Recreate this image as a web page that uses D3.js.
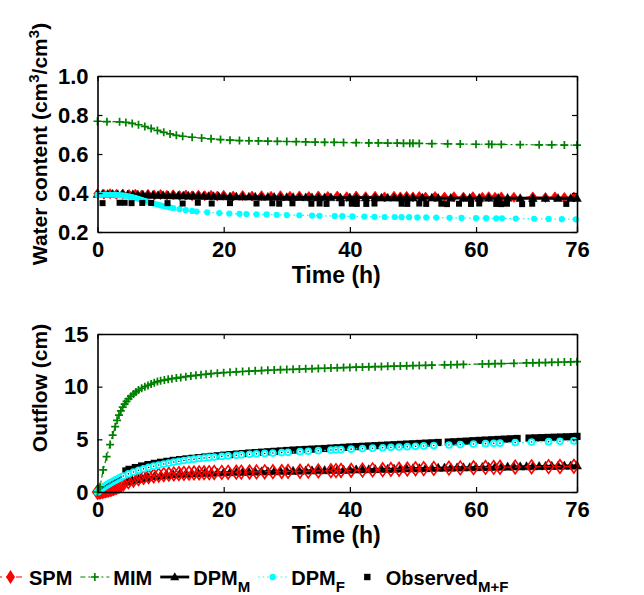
<!DOCTYPE html>
<html>
<head>
<meta charset="utf-8">
<script src="https://cdn.jsdelivr.net/npm/d3@7"></script>
<style>
  body { margin: 0; background: #fff; }
  text { font-family: "Liberation Sans", Arial, sans-serif; font-weight: bold; fill: #000; }
</style>
</head>
<body>
<div id="chart"></div>
<script>
// ---- data: [time (h), value] ----
const xTicks = [0, 20, 40, 60, 76];
const waterTicks = [0.2, 0.4, 0.6, 0.8, 1.0];
const outflowTicks = [0, 5, 10, 15];

// water content (cm3/cm3)
const waterSPM = [[0,0.396],[1,0.394],[2,0.396],[3,0.393],[4,0.395],[5,0.392],[6,0.394],[7,0.39],[8,0.393],[9,0.389],[10,0.392],[11,0.388],[12,0.391],[13,0.387],[14,0.39],[15,0.386],[16,0.389],[17,0.386],[18,0.388],[19,0.385],[20,0.388],[21.5,0.384],[23,0.387],[24.5,0.384],[26,0.386],[27.5,0.383],[29,0.386],[30.5,0.383],[32,0.385],[33.5,0.382],[35,0.385],[36.5,0.382],[38,0.384],[39.5,0.381],[41,0.384],[42.5,0.381],[44,0.383],[45.5,0.38],[47,0.383],[48,0.38],[49,0.383],[50,0.38],[51,0.382],[52,0.379],[53.5,0.382],[55,0.379],[56.5,0.381],[58,0.379],[59.5,0.381],[61,0.378],[62,0.381],[63,0.378],[64,0.38],[66,0.378],[69,0.38],[71,0.377],[72.5,0.38],[74,0.377],[75.5,0.379]];
const waterMIM = [[0,0.768],[1.5,0.766],[3.5,0.765],[4.5,0.762],[5.5,0.757],[6.5,0.75],[7.5,0.741],[8.5,0.731],[9.5,0.721],[10.5,0.711],[11.5,0.703],[12.5,0.696],[13.5,0.691],[15,0.686],[16.5,0.682],[18,0.678],[19.5,0.674],[21,0.671],[22.5,0.669],[24,0.668],[25.5,0.667],[27,0.666],[28.5,0.665],[30,0.664],[31.5,0.663],[33,0.662],[34.5,0.661],[36,0.66],[37.5,0.66],[39,0.659],[41,0.658],[43,0.657],[44.5,0.657],[46,0.656],[47.5,0.656],[48.5,0.655],[49.5,0.655],[50,0.655],[51,0.654],[53,0.653],[55.5,0.652],[57.5,0.651],[60,0.65],[62,0.65],[62.5,0.649],[64,0.649],[67,0.648],[70,0.647],[72,0.647],[74,0.646],[76,0.646]];
const waterDPMM = [[0,0.394],[0.8,0.395],[1.6,0.394],[2.4,0.395],[3.2,0.393],[4,0.394],[4.8,0.392],[5.6,0.393],[6.4,0.391],[7.2,0.391],[8,0.389],[8.8,0.39],[9.6,0.388],[10.4,0.388],[11.2,0.387],[12,0.387],[12.8,0.386],[13.6,0.386],[14.4,0.385],[15.2,0.385],[16,0.384],[16.8,0.384],[17.6,0.383],[18.4,0.383],[19.2,0.382],[20,0.382],[21,0.381],[22,0.381],[23,0.38],[24,0.38],[25,0.38],[26,0.379],[27,0.379],[28,0.379],[29,0.378],[30,0.378],[31,0.378],[32,0.378],[33,0.377],[34,0.377],[35,0.377],[36,0.377],[37,0.377],[38.5,0.376],[40,0.376],[41,0.376],[42.5,0.376],[44,0.376],[45,0.375],[46,0.375],[47,0.375],[48,0.375],[49,0.375],[50,0.375],[51.5,0.375],[53,0.375],[54,0.374],[56,0.374],[58,0.374],[59,0.374],[60.5,0.374],[62,0.374],[63.5,0.374],[65,0.374],[67,0.373],[69,0.373],[71,0.373],[73,0.373],[75,0.373],[76,0.373]];
const waterDPMF = [[0,0.39],[0.5,0.39],[1,0.391],[1.5,0.391],[2,0.391],[2.5,0.391],[3,0.39],[3.5,0.389],[4,0.388],[4.5,0.386],[5,0.383],[5.5,0.379],[6,0.375],[6.5,0.37],[7,0.365],[7.5,0.36],[8,0.355],[8.5,0.35],[9,0.345],[9.5,0.341],[10,0.337],[10.5,0.333],[11,0.33],[11.5,0.326],[12,0.323],[13,0.317],[14,0.312],[15,0.308],[15.7,0.305],[17.4,0.301],[19.3,0.297],[20.9,0.295],[22.5,0.293],[23.6,0.292],[25.2,0.291],[26.8,0.29],[28.4,0.288],[30,0.287],[32,0.286],[34,0.284],[35.2,0.283],[37.6,0.282],[38.8,0.281],[40.4,0.28],[42.3,0.279],[43.9,0.278],[45.5,0.277],[47.1,0.277],[48.2,0.276],[49.4,0.276],[50.7,0.275],[52.1,0.275],[53.7,0.274],[55.8,0.273],[57.7,0.272],[60,0.271],[61.6,0.271],[63.2,0.27],[64.1,0.27],[66.3,0.269],[69.2,0.268],[71.5,0.267],[73.6,0.266],[75.8,0.265]];
const waterObs = [[0.8,0.348],[3.5,0.35],[4.3,0.35],[5.4,0.348],[7.1,0.349],[8.5,0.349],[11.1,0.348],[13.5,0.346],[15.9,0.35],[18.1,0.346],[21,0.348],[25.2,0.346],[27.7,0.347],[28.8,0.345],[30.9,0.347],[33.9,0.345],[35.2,0.346],[36.3,0.344],[38.7,0.347],[40.3,0.345],[41.1,0.344],[42.6,0.344],[43.9,0.346],[48.2,0.345],[49.1,0.344],[51,0.346],[52.1,0.344],[54.5,0.345],[55.4,0.343],[57.3,0.345],[59.2,0.344],[60.5,0.346],[63.2,0.344],[64,0.343],[64.9,0.345],[67.3,0.343],[68.9,0.345],[74.3,0.344]];

// cumulative outflow (cm)
const modelTimes = [0,0.25,0.5,0.75,1,1.25,1.5,1.75,2,2.25,2.5,2.75,3,3.25,3.5,3.75,4.1,4.9,5.7,6.5,7.3,8.1,8.9,9.7,10.5,11.3,12.1,12.9,13.7,14.5,15.3,16.1,16.9,17.7,18.5,19.7,20.7,22,22.8,24.1,25.2,26.5,27.8,29.2,30.2,32.1,33.4,35,37,37.8,38.6,40.2,42,43.6,45.2,46.5,47.8,49.1,50.4,51.7,53.3,55.7,57.5,59.6,61.5,62.8,63.8,66.2,68.8,71.5,73.3,75.5];
const outflowSPM = [0,0.02,0.04,0.07,0.1,0.13,0.17,0.21,0.25,0.3,0.35,0.41,0.47,0.54,0.61,0.68,0.78,0.98,1.14,1.27,1.38,1.47,1.54,1.6,1.65,1.69,1.72,1.75,1.77,1.79,1.81,1.82,1.83,1.84,1.85,1.86,1.87,1.88,1.89,1.9,1.91,1.92,1.93,1.94,1.95,1.97,1.98,2.0,2.02,2.03,2.04,2.06,2.08,2.1,2.12,2.14,2.16,2.18,2.2,2.22,2.24,2.27,2.29,2.31,2.33,2.34,2.35,2.37,2.39,2.41,2.42,2.44];
const outflowDPMF = [0,0.12,0.25,0.37,0.48,0.58,0.68,0.77,0.86,0.94,1.02,1.1,1.18,1.26,1.34,1.42,1.52,1.72,1.9,2.06,2.2,2.33,2.45,2.56,2.66,2.75,2.84,2.92,2.99,3.06,3.12,3.18,3.23,3.28,3.32,3.38,3.43,3.49,3.53,3.58,3.62,3.66,3.7,3.74,3.77,3.83,3.87,3.92,3.98,4.0,4.02,4.07,4.12,4.16,4.2,4.24,4.27,4.3,4.34,4.37,4.41,4.46,4.5,4.55,4.59,4.62,4.64,4.69,4.74,4.78,4.81,4.85];
const outflowMIM = [[0,0],[0.4,0.5],[0.9,2.1],[1.45,3.35],[2,4.5],[2.4,5.4],[2.8,6.2],[3.1,6.8],[3.4,7.3],[3.7,7.7],[4,8.05],[4.3,8.35],[4.6,8.6],[4.9,8.85],[5.3,9.1],[5.7,9.3],[6.1,9.5],[6.5,9.68],[7,9.85],[7.5,10.0],[8,10.12],[8.5,10.25],[9,10.38],[9.5,10.48],[10,10.56],[10.6,10.63],[11.2,10.7],[11.8,10.76],[12.5,10.82],[13.2,10.88],[14,10.95],[14.8,11.02],[15.6,11.08],[16.4,11.13],[17.2,11.18],[18,11.23],[19,11.28],[20,11.33],[21,11.37],[22,11.41],[23,11.44],[24,11.47],[25,11.5],[26,11.53],[27,11.56],[28,11.58],[29,11.61],[30,11.63],[31,11.65],[32,11.67],[33,11.69],[34,11.71],[35,11.73],[36,11.75],[37,11.77],[38,11.79],[39,11.81],[40,11.83],[41,11.85],[42,11.86],[43,11.88],[44,11.9],[45,11.91],[46,11.93],[47,11.95],[48,11.96],[49,11.98],[50,12.0],[51,12.01],[52,12.03],[53,12.04],[55,12.07],[56,12.08],[57,12.1],[58,12.11],[61,12.15],[62,12.17],[63,12.18],[64,12.19],[66,12.22],[68,12.25],[69,12.26],[70,12.28],[71,12.29],[72,12.31],[73,12.32],[74,12.34],[75,12.35],[76,12.37]];
const outflowDPMM = [[4.5,0.95],[5,1.03],[5.5,1.1],[6,1.17],[6.5,1.23],[7,1.29],[7.5,1.34],[8,1.39],[9,1.47],[10,1.54],[11,1.6],[12,1.65],[13,1.69],[14,1.72],[15,1.75],[16,1.77],[17,1.79],[18,1.81],[19,1.83],[20,1.85],[21,1.86],[22,1.88],[23,1.89],[24,1.9],[25,1.92],[26,1.93],[27,1.94],[28,1.95],[29,1.97],[30,1.98],[31,1.99],[32,2.0],[33,2.02],[34,2.03],[35,2.04],[36,2.05],[37,2.07],[38,2.08],[39,2.09],[40,2.1],[41,2.12],[42,2.13],[43,2.14],[44,2.15],[45,2.17],[46,2.18],[47,2.19],[48,2.2],[49,2.22],[50,2.23],[51,2.24],[52,2.25],[53,2.26],[54,2.28],[55,2.29],[56,2.3],[57,2.31],[58,2.32],[59,2.33],[60,2.34],[61,2.35],[62,2.36],[63,2.37],[64,2.38],[65,2.39],[66,2.4],[67,2.41],[68,2.42],[69,2.43],[70,2.44],[71,2.45],[72,2.46],[73,2.47],[74,2.48],[75,2.49],[76,2.5]];
const outflowObs = [[4.5,2.0],[5,2.15],[6,2.32],[7,2.47],[8,2.6],[9,2.72],[10,2.82],[11,2.91],[12,3.0],[13,3.07],[14,3.14],[15,3.2],[16,3.26],[17,3.32],[18,3.38],[19,3.44],[20,3.5],[21,3.55],[22,3.6],[23,3.65],[24,3.7],[25,3.74],[26,3.78],[27,3.82],[28,3.86],[29,3.9],[30,3.94],[31,3.98],[32,4.01],[33,4.04],[34,4.07],[35,4.1],[36,4.13],[37,4.17],[38,4.2],[39,4.24],[40,4.28],[41,4.31],[42,4.34],[43,4.37],[44,4.4],[45,4.43],[46,4.46],[47,4.49],[48,4.52],[49,4.55],[50,4.58],[51,4.61],[52,4.64],[53,4.67],[54,4.7],[55.6,4.74],[56.5,4.77],[57.5,4.8],[58.5,4.83],[59.5,4.87],[60.5,4.9],[61.5,4.93],[62.5,4.96],[63.5,4.99],[64.5,5.02],[65.5,5.05],[66.5,5.08],[68.4,5.12],[69.4,5.14],[70.4,5.16],[71.4,5.18],[72.4,5.2],[73.4,5.22],[74.4,5.24],[75.4,5.26],[76,5.28]];

const legendNames = ["SPM", "MIM", "DPM", "DPM", "Observed"];
const legendSubs = ["", "", "M", "F", "M+F"];

// ---- layout ----
const width = 644, height = 595;
const green = "#008000", red = "#ff0000", cyan = "#00ffff";

const svg = d3.select("#chart").append("svg")
    .attr("width", width)
    .attr("height", height);

const x = d3.scaleLinear().domain([0, 76]).range([97.5, 577]);
const yTop = d3.scaleLinear().domain([0.2, 1.0]).range([232, 76]);
const yBot = d3.scaleLinear().domain([0, 15]).range([492, 334]);

// marker shapes
const shapes = {
    diamond: (w, h) => `M0,${-h/2}L${w/2},0L0,${h/2}L${-w/2},0Z`,
    plus: s => `M${-s},0H${s}M0,${-s}V${s}`,
    triangle: s => `M0,${-s}L${s*0.95},${s*0.7}L${-s*0.95},${s*0.7}Z`,
    square: s => `M${-s},${-s}H${s}V${s}H${-s}Z`
};

function drawLine(g, data, y, color, dash, w) {
    g.append("path")
        .datum(data)
        .attr("fill", "none")
        .attr("stroke", color)
        .attr("stroke-width", w)
        .attr("stroke-dasharray", dash)
        .attr("d", d3.line().x(d => x(d[0])).y(d => y(d[1])));
}

function drawMarks(g, data, y, path, fill, stroke, sw) {
    g.append("g").selectAll("path")
        .data(data)
        .enter()
        .append("path")
        .attr("transform", d => `translate(${x(d[0])},${y(d[1])})`)
        .attr("d", path)
        .attr("fill", fill)
        .attr("stroke", stroke)
        .attr("stroke-width", sw);
}

function drawCircles(g, data, y, r, fill, stroke, sw) {
    g.append("g").selectAll("circle")
        .data(data)
        .enter()
        .append("circle")
        .attr("cx", d => x(d[0]))
        .attr("cy", d => y(d[1]))
        .attr("r", r)
        .attr("fill", fill)
        .attr("stroke", stroke)
        .attr("stroke-width", sw);
}

function drawAxes(y, ticks, fmt, yLabel, labelY) {
    const [y0, y1] = y.range();
    const [x0, x1] = x.range();
    const g = svg.append("g");

    g.append("g").attr("transform", `translate(0,${y0})`)
        .call(d3.axisBottom(x).tickValues(xTicks).tickSizeInner(-5).tickSizeOuter(0).tickPadding(9));
    g.append("g").attr("transform", `translate(0,${y1})`)
        .call(d3.axisTop(x).tickValues(xTicks).tickSizeInner(-5).tickSizeOuter(0).tickFormat(""));
    g.append("g").attr("transform", `translate(${x0},0)`)
        .call(d3.axisLeft(y).tickValues(ticks).tickSizeInner(-5).tickSizeOuter(0).tickPadding(9).tickFormat(fmt));
    g.append("g").attr("transform", `translate(${x1},0)`)
        .call(d3.axisRight(y).tickValues(ticks).tickSizeInner(-5).tickSizeOuter(0).tickFormat(""));

    g.selectAll(".domain").attr("stroke", "#000").attr("stroke-width", 1.6);
    g.selectAll(".tick line").attr("stroke", "#000").attr("stroke-width", 1.2);
    g.selectAll(".tick text")
        .attr("fill", "#000")
        .style("font-size", "22px")
        .style("font-family", "'Liberation Sans', Arial, sans-serif")
        .style("font-weight", "bold");

    g.append("text")
        .attr("x", (x0 + x1) / 2 - 1)
        .attr("y", y0 + 51)
        .attr("text-anchor", "middle")
        .style("font-size", "23px")
        .text("Time (h)");

    const lab = g.append("text")
        .attr("transform", `translate(47,${labelY}) rotate(-90)`)
        .attr("text-anchor", "middle")
        .style("font-size", "21px");
    yLabel(lab);
}

// ---- top panel: water content ----
const topPanel = svg.append("g");
drawLine(topPanel, waterSPM, yTop, red, "6,4", 1.2);
drawMarks(topPanel, waterSPM, yTop, shapes.diamond(7.5, 10), red, red, 0.8);
drawLine(topPanel, waterDPMM, yTop, "#000", null, 2.8);
drawMarks(topPanel, waterDPMM, yTop, shapes.triangle(4.6), "#000", "#000", 0.5);
drawLine(topPanel, waterDPMF, yTop, cyan, "1.5,3", 1.2);
drawCircles(topPanel, waterDPMF, yTop, 3.1, cyan, "none", 0);
drawMarks(topPanel, waterObs, yTop, shapes.square(3), "#000", "none", 0);
drawLine(topPanel, waterMIM, yTop, green, "7,3,2,3", 1.2);
drawMarks(topPanel, waterMIM, yTop, shapes.plus(4), "none", green, 1.7);

drawAxes(yTop, waterTicks, d3.format(".1f"), t => {
    t.append("tspan").text("Water content (cm");
    t.append("tspan").attr("dy", -8).style("font-size", "15px").text("3");
    t.append("tspan").attr("dy", 8).text("/cm");
    t.append("tspan").attr("dy", -8).style("font-size", "15px").text("3");
    t.append("tspan").attr("dy", 8).text(")");
}, 144);

// ---- bottom panel: outflow ----
const spmOut = modelTimes.map((t, i) => [t, outflowSPM[i]]);
const dpmfOut = modelTimes.map((t, i) => [t, outflowDPMF[i]]);

const botPanel = svg.append("g");
drawLine(botPanel, outflowDPMM, yBot, "#000", null, 2.6);
drawMarks(botPanel, outflowDPMM, yBot, shapes.triangle(4.8), "#000", "#000", 0.5);
drawLine(botPanel, spmOut, yBot, red, "6,4", 1.2);
drawMarks(botPanel, spmOut, yBot, shapes.diamond(9.5, 13.5), "none", red, 1.6);
drawMarks(botPanel, outflowObs, yBot, shapes.square(3.6), "#000", "none", 0);
drawLine(botPanel, dpmfOut, yBot, cyan, "1.5,3", 1.2);
drawCircles(botPanel, dpmfOut, yBot, 2.9, "#fff", cyan, 1.9);
drawCircles(botPanel, dpmfOut, yBot, 0.8, "#035", "none", 0);
drawLine(botPanel, outflowMIM, yBot, green, "7,3,2,3", 1.2);
drawMarks(botPanel, outflowMIM, yBot, shapes.plus(4), "none", green, 1.7);

drawAxes(yBot, outflowTicks, d3.format("d"), t => t.text("Outflow (cm)"), 388);

// ---- legend ----
const legendStyles = [
    { color: red, dash: "6,4", w: 1.2, mark: g => g.append("path").attr("d", shapes.diamond(9, 14)).attr("fill", red) },
    { color: green, dash: "5,3,2,3", w: 1.2, mark: g => g.append("path").attr("d", shapes.plus(4)).attr("stroke", green).attr("stroke-width", 1.6) },
    { color: "#000", dash: null, w: 2.8, mark: g => g.append("path").attr("d", shapes.triangle(4.8)).attr("fill", "#000") },
    { color: cyan, dash: "1.5,3", w: 1.2, mark: g => g.append("circle").attr("r", 3.2).attr("fill", cyan) },
    { color: null, dash: null, w: 0, mark: g => g.append("path").attr("d", shapes.square(3.2)).attr("fill", "#000") }
];

const legendY = 577;
let lx = -4;
legendNames.forEach((name, i) => {
    const st = legendStyles[i];
    const g = svg.append("g");
    if (st.color) {
        g.append("line")
            .attr("x1", lx).attr("x2", lx + 29)
            .attr("y1", legendY).attr("y2", legendY)
            .attr("stroke", st.color)
            .attr("stroke-width", st.w)
            .attr("stroke-dasharray", st.dash);
    }
    st.mark(g.append("g").attr("transform", `translate(${lx + 14.5},${legendY})`));
    const t = g.append("text")
        .attr("x", lx + 33)
        .attr("y", legendY + 8)
        .style("font-size", "20px");
    t.append("tspan").text(name);
    if (legendSubs[i]) {
        t.append("tspan").attr("dy", 7).style("font-size", "15px").text(legendSubs[i]);
    }
    lx = lx + 33 + t.node().getComputedTextLength() + 8;
});
</script>
</body>
</html>
